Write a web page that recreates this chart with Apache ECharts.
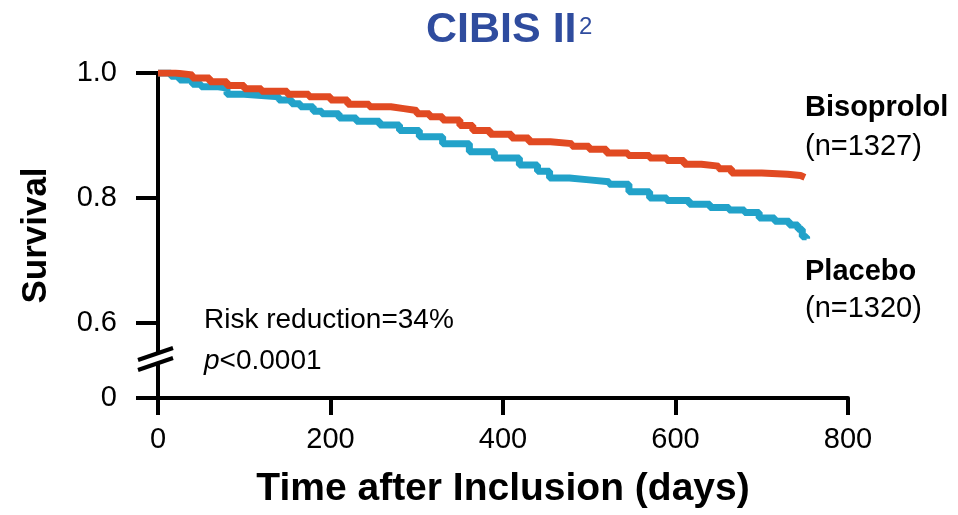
<!DOCTYPE html>
<html>
<head>
<meta charset="utf-8">
<script src="https://cdn.jsdelivr.net/npm/echarts@6/dist/echarts.min.js"></script>
<style>html,body{margin:0;padding:0;background:#fff}#main{width:958px;height:515px}</style>
</head>
<body>
<div id="main"></div>
<script>
// ---- data (day, survival) ----
const bisoprololDays = [0,20,40,60,80,100,120,150,175,200,220,245,270,285,300,315,330,350,365,385,410,430,455,480,500,520,545,570,590,610,630,650,665,700,730,745,750];
const bisoprololSurv = [1.0,0.997,0.992,0.986,0.980,0.975,0.971,0.966,0.962,0.957,0.950,0.946,0.943,0.940,0.935,0.930,0.925,0.916,0.908,0.902,0.896,0.890,0.887,0.883,0.878,0.872,0.868,0.864,0.860,0.854,0.851,0.847,0.840,0.838,0.836,0.833,0.833];
const placeboDays = [0,15,25,40,50,70,80,100,120,140,155,165,180,190,210,230,257,280,303,330,361,390,419,440,454,477,500,523,546,570,590,616,640,662,680,697,715,732,742,747,752];
const placeboSurv = [1.0,0.995,0.989,0.982,0.978,0.976,0.966,0.964,0.962,0.957,0.951,0.946,0.939,0.935,0.928,0.923,0.917,0.908,0.898,0.887,0.874,0.864,0.853,0.843,0.832,0.829,0.826,0.822,0.810,0.800,0.796,0.790,0.785,0.781,0.777,0.768,0.763,0.757,0.750,0.738,0.735];
const xTicks = [0,200,400,600,800];
const yTickValues = [0.6,0.8,1.0];
const yZeroPos = 0.48;     // where the broken axis shows "0"
const yBreakPos = 0.5424;  // where the break marks sit
const seriesNames = ['Bisoprolol','Placebo'];
const seriesN = ['(n=1327)','(n=1320)'];

const FONT = 'Liberation Sans, Arial, sans-serif';
const ORANGE = '#E14A22';
const BLUE = '#22A2C9';

const chart = echarts.init(document.getElementById('main'));
const zip = (a,b) => a.map((v,i)=>[v,b[i]]);
const yLabelVals = [yZeroPos].concat(yTickValues);

chart.setOption({
  animation: false,
  backgroundColor: '#fff',
  title: [
    {text:'CIBIS II', left: 421, top: 4, textStyle:{fontFamily:FONT, fontSize:43, fontWeight:'bold', color:'#2F4C9E'}},
    {text:'2', left: 574, top: 10, textStyle:{fontFamily:FONT, fontSize:24, fontWeight:'normal', color:'#2F4C9E'}}
  ],
  grid: {left:158, right:110, top:73, bottom:117, containLabel:false, outerBoundsMode:'none'},
  xAxis: {
    type:'value', min:0, max:800, interval:200,
    name:'Time after Inclusion (days)', nameLocation:'middle', nameGap:72,
    nameTextStyle:{fontFamily:FONT, fontSize:39, fontWeight:'bold', color:'#000'},
    axisLine:{show:true, lineStyle:{color:'#000', width:4}},
    axisTick:{show:true, length:17, lineStyle:{color:'#000', width:4}},
    axisLabel:{margin:27, fontFamily:FONT, fontSize:29, color:'#000',
      customValues: xTicks},
    splitLine:{show:false}
  },
  yAxis: {
    type:'value', min:yZeroPos, max:1.0,
    name:'Survival', nameLocation:'middle', nameGap:104, nameRotate:90,
    nameTextStyle:{fontFamily:FONT, fontSize:35, fontWeight:'bold', color:'#000'},
    axisLine:{show:true, onZero:false, lineStyle:{color:'#000', width:4}},
    axisTick:{show:true, length:22, lineStyle:{color:'#000', width:4}, customValues:yLabelVals},
    axisLabel:{margin:41, fontFamily:FONT, fontSize:29, color:'#000', customValues:yLabelVals,
      formatter: v => (v < 0.5 ? '0' : v.toFixed(1))},
    splitLine:{show:false}
  },
  series: [
    {name:seriesNames[0], type:'line', step:'end', showSymbol:false, data:zip(bisoprololDays,bisoprololSurv),
     lineStyle:{color:ORANGE, width:7}, itemStyle:{color:ORANGE}, z:3},
    {name:seriesNames[1], type:'line', step:'end', showSymbol:false, data:zip(placeboDays,placeboSurv),
     lineStyle:{color:BLUE, width:7}, itemStyle:{color:BLUE}, z:2}
  ]
});

const br = chart.convertToPixel({gridIndex:0}, [0, yBreakPos]);
const bx = br[0], by = br[1];
chart.setOption({
  graphic: [
    {type:'rect', z:100, shape:{x:bx-5, y:by-6, width:10, height:10}, style:{fill:'#fff'}},
    {type:'line', z:101, shape:{x1:bx-20, y1:by+1, x2:bx+15, y2:by-11}, style:{stroke:'#000', lineWidth:4}},
    {type:'line', z:101, shape:{x1:bx-20, y1:by+11, x2:bx+15, y2:by-1}, style:{stroke:'#000', lineWidth:4}},
    {type:'text', z:100, style:{x:805, y:108, text:seriesNames[0], font:'bold 29px '+FONT, fill:'#000', verticalAlign:'middle'}},
    {type:'text', z:100, style:{x:805, y:147, text:seriesN[0], font:'29px '+FONT, fill:'#000', verticalAlign:'middle'}},
    {type:'text', z:100, style:{x:805, y:272, text:seriesNames[1], font:'bold 29px '+FONT, fill:'#000', verticalAlign:'middle'}},
    {type:'text', z:100, style:{x:805, y:309, text:seriesN[1], font:'29px '+FONT, fill:'#000', verticalAlign:'middle'}},
    {type:'text', z:100, style:{x:204, y:320, text:'Risk reduction=34%', font:'28px '+FONT, fill:'#000', verticalAlign:'middle'}},
    {type:'text', z:100, style:{x:204, y:361, text:'{i|p}<0.0001', font:'28px '+FONT, fill:'#000', verticalAlign:'middle',
      rich:{i:{fontStyle:'italic', fontSize:28, fontFamily:FONT, fill:'#000'}}}}
  ]
});
</script>
</body>
</html>
